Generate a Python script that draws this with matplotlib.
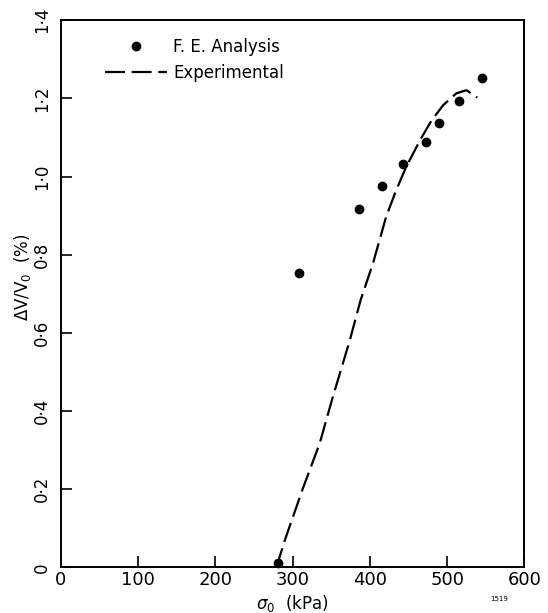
import matplotlib
matplotlib.use("Agg")
import matplotlib.pyplot as plt

# F.E. analysis points (kPa, %)
fe_sigma = [281, 308, 386, 416, 443, 472, 490, 515, 545]
fe_dv = [0.01, 0.754, 0.916, 0.975, 1.033, 1.089, 1.138, 1.193, 1.252]

# experimental curve
exp_sigma = [279, 290, 314, 335, 352, 374, 388, 404, 421, 434, 447, 466, 480, 495, 512, 525, 539]
exp_dv = [0.0, 0.07, 0.206, 0.317, 0.436, 0.581, 0.684, 0.778, 0.897, 0.965, 1.025, 1.097, 1.144, 1.183, 1.213, 1.221, 1.202]

xticks = [0, 100, 200, 300, 400, 500, 600]
yticks = [0, 0.2, 0.4, 0.6, 0.8, 1.0, 1.2, 1.4]
ylabels = ["0", "0·2", "0·4", "0·6", "0·8", "1·0", "1·2", "1·4"]

plt.rcParams["font.family"] = ["DejaVu Sans"]

fig = plt.figure(figsize=(5.48, 6.13), dpi=100)
ax = fig.add_axes([0.111, 0.0745, 0.846, 0.8925])

ax.plot(fe_sigma, fe_dv, "o", color="black", markersize=6, clip_on=False,
        label="F. E. Analysis")
ax.plot(exp_sigma, exp_dv, color="black", lw=1.6, dashes=(9, 3),
        label="Experimental")

ax.set_xlim(0, 600)
ax.set_ylim(0, 1.4)
ax.set_xticks(xticks)
ax.set_yticks(yticks)
ax.set_yticklabels(ylabels, rotation=90, va="center")
ax.tick_params(direction="in", length=8, width=1.2, color="black")
ax.tick_params(axis="y", pad=7, labelsize=12)
ax.tick_params(axis="x", pad=3, labelsize=13)
for s in ax.spines.values():
    s.set_linewidth(1.4)

ax.set_xlabel(r"$\sigma_0$  (kPa)", fontsize=12, va="top")
ax.xaxis.set_label_coords(0.5, -0.047)
ax.set_ylabel(r"$\Delta$V/V$_0$  (%)", fontsize=12)
ax.yaxis.set_label_coords(-0.06, 0.53)

ax.legend(loc="upper left", bbox_to_anchor=(0.0955, 0.967), frameon=False,
          fontsize=12, handlelength=3.7, handletextpad=0.4, labelspacing=0.45,
          borderpad=0, borderaxespad=0, numpoints=1)

fig.text(0.895, 0.02, "1519", fontsize=5)

fig.savefig("out.png", dpi=100)
